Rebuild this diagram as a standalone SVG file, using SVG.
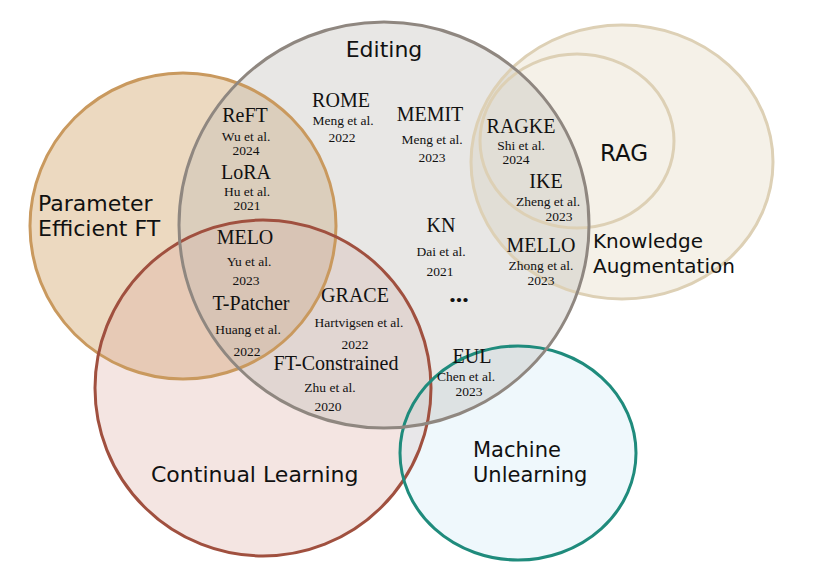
<svg xmlns="http://www.w3.org/2000/svg" width="830" height="570" viewBox="0 0 830 570">
<style>
.lbl{font-family:"DejaVu Sans","Noto Sans",sans-serif;font-size:21px;fill:#111}
.m{font-family:"Liberation Serif","Times New Roman",serif;font-size:20px;fill:#111;text-anchor:middle}
.s{font-family:"Liberation Serif","Times New Roman",serif;font-size:13.5px;fill:#111;text-anchor:middle}
.c{stroke-width:3}
</style>
<rect width="830" height="570" fill="#ffffff"/>
<g id="fills">
<ellipse cx="622" cy="162" rx="151" ry="137" fill="#e1d7be" fill-opacity="0.35"/>
<ellipse cx="183" cy="226" rx="153" ry="153" fill="#dcb98c" fill-opacity="0.55"/>
<ellipse cx="263" cy="388" rx="168" ry="168" fill="#dcaaa0" fill-opacity="0.3"/>
<ellipse cx="518" cy="453" rx="118" ry="107" fill="#d2ebf5" fill-opacity="0.35"/>
<ellipse cx="384" cy="225" rx="205" ry="203" fill="#beb9b4" fill-opacity="0.35"/>
</g>
<g id="knowledge-augmentation">
<ellipse cx="622" cy="162" rx="151" ry="137" fill="none" stroke="#ddd0b5" class="c"/>
<text class="lbl" x="593" y="248" style="font-size:20px">Knowledge</text>
<text class="lbl" x="593" y="273" style="font-size:20px">Augmentation</text>
</g>
<g id="rag">
<ellipse cx="577" cy="141" rx="97" ry="87" fill="none" stroke="#ddd0b5" class="c"/>
<text class="lbl" x="624" y="161" text-anchor="middle" style="font-size:23px">RAG</text>
</g>
<g id="peft">
<ellipse cx="183" cy="226" rx="153" ry="153" fill="none" stroke="#c9995e" class="c"/>
<text class="lbl" x="38" y="211" style="font-size:22px">Parameter</text>
<text class="lbl" x="38" y="236" style="font-size:22px">Efficient FT</text>
</g>
<g id="continual-learning">
<ellipse cx="263" cy="388" rx="168" ry="168" fill="none" stroke="#a0503f" class="c"/>
<text class="lbl" x="151" y="482" style="font-size:22px">Continual Learning</text>
</g>
<g id="machine-unlearning">
<ellipse cx="518" cy="453" rx="118" ry="107" fill="none" stroke="#1f8b7c" class="c"/>
<text class="lbl" x="473" y="457">Machine</text>
<text class="lbl" x="473" y="482">Unlearning</text>
</g>
<g id="editing">
<ellipse cx="384" cy="225" rx="205" ry="203" fill="none" stroke="#8f8780" class="c"/>
<text class="lbl" x="384" y="57" text-anchor="middle" style="font-size:22px">Editing</text>
</g>
<g id="methods">
<g id="rome"><text class="m" x="341" y="107">ROME</text><text class="s" x="343" y="125">Meng et al.</text><text class="s" x="342" y="142">2022</text></g>
<g id="memit"><text class="m" x="430" y="121">MEMIT</text><text class="s" x="432" y="144">Meng et al.</text><text class="s" x="432" y="162">2023</text></g>
<g id="reft"><text class="m" x="245" y="122">ReFT</text><text class="s" x="246" y="141">Wu et al.</text><text class="s" x="246" y="155">2024</text></g>
<g id="lora"><text class="m" x="246" y="179">LoRA</text><text class="s" x="247" y="196">Hu et al.</text><text class="s" x="247" y="210">2021</text></g>
<g id="melo"><text class="m" x="245" y="244">MELO</text><text class="s" x="249" y="266">Yu et al.</text><text class="s" x="246" y="285">2023</text></g>
<g id="t-patcher"><text class="m" x="251" y="310">T-Patcher</text><text class="s" x="248" y="334">Huang et al.</text><text class="s" x="247" y="356">2022</text></g>
<g id="grace"><text class="m" x="355" y="302">GRACE</text><text class="s" x="359" y="327">Hartvigsen et al.</text><text class="s" x="355" y="349">2022</text></g>
<g id="ft-constrained"><text class="m" x="336" y="370">FT-Constrained</text><text class="s" x="330" y="392">Zhu et al.</text><text class="s" x="328" y="411">2020</text></g>
<g id="kn"><text class="m" x="441" y="232">KN</text><text class="s" x="441" y="256">Dai et al.</text><text class="s" x="440" y="276">2021</text></g>
<g id="more"><text class="m" x="459" y="302" style="font-size:26px;font-weight:bold">...</text></g>
<g id="ragke"><text class="m" x="521" y="133">RAGKE</text><text class="s" x="521" y="150">Shi et al.</text><text class="s" x="516" y="164">2024</text></g>
<g id="ike"><text class="m" x="546" y="188">IKE</text><text class="s" x="548" y="206">Zheng et al.</text><text class="s" x="559" y="221">2023</text></g>
<g id="mello"><text class="m" x="541" y="252">MELLO</text><text class="s" x="541" y="270">Zhong et al.</text><text class="s" x="541" y="285">2023</text></g>
<g id="eul"><text class="m" x="472" y="363">EUL</text><text class="s" x="466" y="381">Chen et al.</text><text class="s" x="469" y="396">2023</text></g>
</g>
</svg>
